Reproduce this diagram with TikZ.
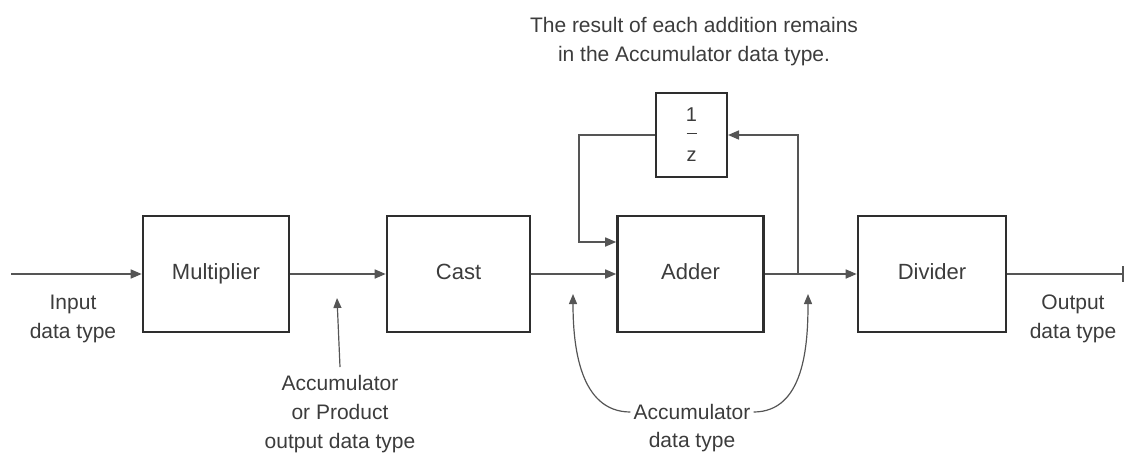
\documentclass[tikz,border=0pt]{standalone}
\usepackage{fontspec}
\setmainfont{Liberation Sans}
\usetikzlibrary{arrows.meta}
\definecolor{ink}{HTML}{2E2E2E}
\definecolor{wire}{HTML}{555555}
\definecolor{txt}{HTML}{3C3C3C}
\begin{document}
\begin{tikzpicture}[x=1pt,y=-1pt,
    block/.style={draw=ink,line width=2.6pt,minimum height=116pt,text=txt,text height=16pt,text depth=5pt,font=\fontsize{22}{31}\selectfont},
    lbl/.style={text=txt,align=center,font=\fontsize{21}{29}\selectfont,inner sep=0pt},
    wired/.style={draw=wire,line width=1.6pt,-{Triangle[length=11pt,width=9pt]}}]
  \useasboundingbox (0,0) rectangle (1126,461);
  \node[block,minimum width=146pt] (mult) at (216,274) {Multiplier};
  \node[block,minimum width=143pt] (cast) at (458.5,274) {Cast};
  \node[block,minimum width=146pt] (adder) at (690.5,274) {Adder};
  \node[block,minimum width=148pt] (div) at (932,274) {Divider};
  \node[draw=ink,line width=2pt,minimum width=71pt,minimum height=84pt,align=center,text=txt,
    font=\fontsize{20}{21}\selectfont] (delay) at (691.5,135)
    {1\\[-2pt]\rule[7pt]{10pt}{1.2pt}\\z};
  \coordinate (in) at (11,274);
  \coordinate (out) at (1124,274);
  \coordinate (j) at (798,274);
  % main path
  \draw[wired] (in) -- (mult);
  \draw[wired] (mult) -- (cast);
  \draw[wired] (cast) -- (adder);
  \draw[draw=wire,line width=1.6pt] (adder) -- (j);
  \draw[wired] (j) -- (div);
  \draw[draw=wire,line width=1.6pt,-{Bar[width=16pt,line width=2pt]}] (div) -- (out);
  % feedback through the delay
  \draw[wired] (j) |- (delay.east);
  \draw[wired] (delay.west) -- ++(-76,0) |- ([yshift=32pt]adder.west);
  % labels
  \node[lbl] (inlbl) at (73,319) {Input\\data type};
  \node[lbl] (outlbl) at (1073,319) {Output\\data type};
  \node[lbl] (note) at (694,42) {The result of each addition remains\\in the Accumulator data type.};
  \node[lbl] (prodlbl) at (340,414) {Accumulator\\or Product\\output data type};
  \coordinate (prodtip) at (337,298);
  \draw[wired,-{Triangle[length=10pt,width=8pt]},line width=1.2pt] ([yshift=8pt]prodlbl.north) -- (prodtip);
  \node[lbl,inner xsep=3pt] (acc) at (692,412) {Accumulator};
  \node[lbl] (acctype) at (692,442) {data type};
  \coordinate (accl) at (573,294);
  \coordinate (accr) at (808,294);
  \draw[wired,-{Triangle[length=10pt,width=8pt]},line width=1.2pt] (acc.west) to[out=180,in=-90] (accl);
  \draw[wired,-{Triangle[length=10pt,width=8pt]},line width=1.2pt] (acc.east) to[out=0,in=-90] (accr);
\end{tikzpicture}
\end{document}
